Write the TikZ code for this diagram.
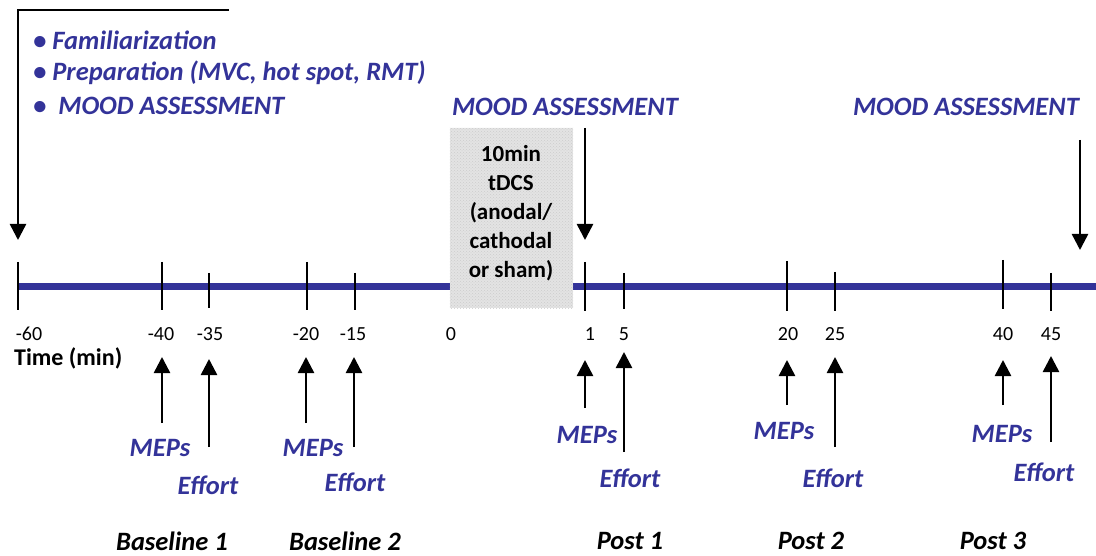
\documentclass[tikz,border=0pt]{standalone}
\usepackage{fontspec}
\setmainfont{Carlito}
\usetikzlibrary{arrows.meta,patterns}
\definecolor{tblue}{RGB}{51,51,153}
\begin{document}
\begin{tikzpicture}[x=1pt,y=-1pt,
  bluelab/.style={text=tblue,font=\fontsize{26.5}{30}\selectfont\bfseries\itshape,inner sep=0pt},
  ticklab/.style={font=\fontsize{20}{23}\selectfont,inner sep=0pt},
  phase/.style={font=\fontsize{26.5}{30}\selectfont\bfseries\itshape,inner sep=0pt},
  arr/.style={line width=2.5pt,-{Triangle[width=16pt,length=16pt]}},
  tickline/.style={line width=2pt}
]
\useasboundingbox (0,0) rectangle (1096,556);
% timeline
\coordinate (tlstart) at (18,287);
\coordinate (tlend) at (1096,287);
\draw[tblue,line width=7pt] (tlstart) -- (tlend);
% tDCS box
\node[fill=gray!22, minimum width=123pt, minimum height=180pt, inner sep=0pt] (box) at (511.5,218) {};
\fill[pattern=crosshatch dots, pattern color=gray!40] (box.north west) rectangle (box.south east);
\node[align=center, font=\fontsize{23}{29}\selectfont\bfseries, inner sep=0pt] (boxtxt) at (511,213) {10min\\tDCS\\(anodal/\\cathodal\\or sham)};
% top-left bracket arrow
\coordinate (br1) at (229,10);
\coordinate (br2) at (18,10);
\coordinate (br3) at (18,240);
\draw[arr] (br1) -- (br2) -- (br3);
\node[bluelab, anchor=west] (b1) at (33,40) {• Familiarization};
\node[bluelab, anchor=west] (b2) at (33,73) {• Preparation (MVC, hot spot, RMT)};
\node[bluelab, anchor=west] (b3) at (33,106) {•\ \ MOOD ASSESSMENT};
% mood assessments
\node[bluelab] (mood2) at (565,107) {MOOD ASSESSMENT};
\node[bluelab] (mood3) at (966,107) {MOOD ASSESSMENT};
\coordinate (m2a) at (585,128);
\coordinate (m2b) at (585,240);
\coordinate (m3a) at (1080,140);
\coordinate (m3b) at (1080,250);
\draw[arr] (m2a) -- (m2b);
\draw[arr] (m3a) -- (m3b);
% ticks
\draw[tickline, line width=2.5pt] (18,262) -- (18,310);
\foreach \x/\a/\b in {162/262/310, 209/273/308, 307/262/310, 355/273/310, 585/262/311, 624/273/309, 787/261/311, 835/272/311, 1003/260/309, 1051/273/311}
  \draw[tickline] (\x,\a) -- (\x,\b);
% tick labels
\foreach \x/\t/\n in {29/-60/tm60, 161/-40/tm40, 210/-35/tm35, 306/-20/tm20, 353/-15/tm15, 451/0/t0, 590/1/t1, 624/5/t5, 788/20/t20, 835/25/t25, 1003/40/t40, 1051/45/t45}
  \node[ticklab] (\n) at (\x,334) {\t};
\node[font=\fontsize{24}{28}\selectfont\bfseries, inner sep=0pt, anchor=west] (time) at (14,358) {Time (min)};
% up arrows
\foreach \x/\a/\b in {162/423/357, 209/447/359, 306/423/357, 354/447/357, 585/408/360, 624/452/352, 787/405/360, 835/447/357, 1003/405/360, 1051/442/356}{
  \coordinate (ua\x) at (\x,\a);
  \coordinate (ub\x) at (\x,\b);
  \draw[arr] (ua\x) -- (ub\x);
}
% MEPs / Effort labels
\node[bluelab] (mep1) at (160,448) {MEPs};
\node[bluelab] (eff1) at (208,485) {Effort};
\node[bluelab] (mep2) at (313,448) {MEPs};
\node[bluelab] (eff2) at (355,482) {Effort};
\node[bluelab] (mep3) at (587,435) {MEPs};
\node[bluelab] (eff3) at (630,478) {Effort};
\node[bluelab] (mep4) at (784,431) {MEPs};
\node[bluelab] (eff4) at (833,478) {Effort};
\node[bluelab] (mep5) at (1002,434) {MEPs};
\node[bluelab] (eff5) at (1044,472) {Effort};
% phases
\node[phase] (ph1) at (172,541) {Baseline 1};
\node[phase] (ph2) at (345,541) {Baseline 2};
\node[phase] (ph3) at (630,541) {Post 1};
\node[phase] (ph4) at (811,541) {Post 2};
\node[phase] (ph5) at (993,541) {Post 3};
\end{tikzpicture}
\end{document}
